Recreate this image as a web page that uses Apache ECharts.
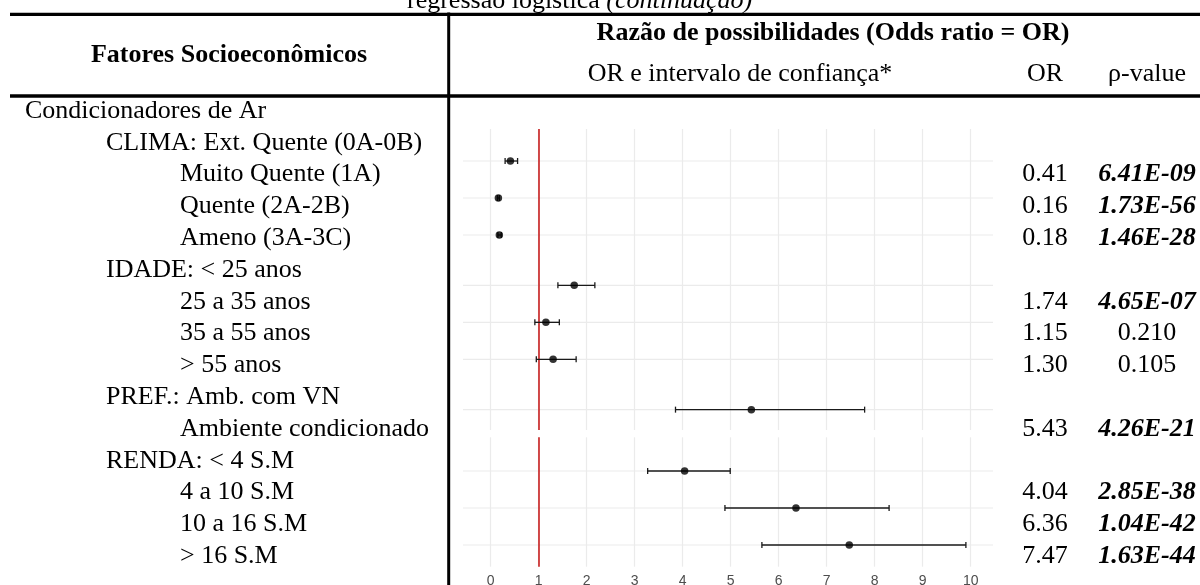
<!DOCTYPE html>
<html><head><meta charset="utf-8">
<script src="https://cdn.jsdelivr.net/npm/echarts@6/dist/echarts.min.js"></script>
<style>html,body{margin:0;padding:0;background:#fff;}#c{width:1200px;height:585px;}</style>
</head><body><div id="c"></div>
<script>
// ---------------- data ----------------
const rowLabels = ['Condicionadores de Ar','CLIMA: Ext. Quente (0A-0B)','Muito Quente (1A)','Quente (2A-2B)','Ameno (3A-3C)','IDADE: < 25 anos','25 a 35 anos','35 a 55 anos','> 55 anos','PREF.: Amb. com VN','Ambiente condicionado','RENDA: < 4 S.M','4 a 10 S.M','10 a 16 S.M','> 16 S.M'];
const rowLevels = [0,1,2,2,2,1,2,2,2,1,2,1,2,2,2];
const factorLabels = ['Muito Quente (1A)','Quente (2A-2B)','Ameno (3A-3C)','25 a 35 anos','35 a 55 anos','> 55 anos','Ambiente condicionado','4 a 10 S.M','10 a 16 S.M','> 16 S.M'];
const factorGroups = ['CLIMA','CLIMA','CLIMA','IDADE','IDADE','IDADE','PREF','RENDA','RENDA','RENDA'];
const factorPanel = [0,0,0,0,0,0,0,1,1,1];
const orValues = [0.41,0.16,0.18,1.74,1.15,1.30,5.43,4.04,6.36,7.47];
const ciLow  = [0.30,0.14,0.15,1.40,0.92,0.95,3.85,3.27,4.88,5.65];
const ciHigh = [0.56,0.18,0.22,2.17,1.43,1.78,7.79,4.99,8.30,9.90];
const pValues = ['6.41E-09','1.73E-56','1.46E-28','4.65E-07','0.210','0.105','4.26E-21','2.85E-38','1.04E-42','1.63E-44'];
const xTickMin = 0, xTickMax = 10, xTickStep = 1;
const headerLeft = 'Fatores Socioeconômicos';
const headerTop = 'Razão de possibilidades (Odds ratio = OR)';
const headerCI = 'OR e intervalo de confiança*';
const headerOR = 'OR';
const headerP = 'ρ-value';
const captionA = 'regressão logística ';
const captionB = '(continuação)';

// ---------------- layout ----------------
const SERIF = '"Liberation Serif","Times New Roman",serif';
const SANS = '"Liberation Sans",Arial,sans-serif';
const FS = 26;
const ROW_FIRST = 111, ROW_PITCH = 31.8;
const tableTop = ROW_FIRST - ROW_PITCH / 2, tableH = ROW_PITCH * rowLabels.length;
const levelX = [25, 106, 180];
const orX = 1045, pX = 1147;
const GROUP_GAP = 0.36;
const panels = [
  {top: 129, height: 301, ymin: -0.865, ymax: 7.27, labels: false},
  {top: 437.3, height: 129.4, ymin: -0.91, ymax: 2.586, labels: true}
];
const plotLeft = 490.7, plotW = 480, bgLeft = 463, bgW = 530;
const GRID_COLOR = '#ebebeb';

const rowFactor = []; { let k = 0; rowLevels.forEach(l => rowFactor.push(l === 2 ? k++ : -1)); }
const factorPos = [];
{
  const cnt = [0, 0], gaps = [0, 0], prev = [null, null];
  factorLabels.forEach((_, i) => {
    const p = factorPanel[i];
    if (prev[p] !== null && factorGroups[i] !== prev[p]) gaps[p]++;
    prev[p] = factorGroups[i];
    factorPos.push(cnt[p] + gaps[p] * GROUP_GAP);
    cnt[p]++;
  });
}

const grids = [], xAxes = [], yAxes = [], series = [];
function addGrid(g, x, y) {
  const idx = grids.length;
  g.outerBoundsMode = 'none';
  g.containLabel = false;
  grids.push(g); x.gridIndex = idx; y.gridIndex = idx; xAxes.push(x); yAxes.push(y);
  return idx;
}
function textCol(left, align, formatter, rich) {
  return addGrid({left: left, top: tableTop, width: 1, height: tableH},
    {type: 'value', show: false},
    {type: 'category', data: rowLabels, inverse: true,
     axisLine: {show: false}, axisTick: {show: false}, splitLine: {show: false},
     axisLabel: {interval: 0, margin: 0, align: align, fontFamily: SERIF, fontSize: FS, color: '#000',
                 formatter: formatter, rich: rich}});
}
levelX.forEach((x, lvl) => textCol(x, 'left', (v, i) => rowLevels[i] === lvl ? v : ''));
textCol(orX, 'center', (v, i) => rowFactor[i] >= 0 ? orValues[rowFactor[i]].toFixed(2) : '');
textCol(pX, 'center', (v, i) => {
  const f = rowFactor[i]; if (f < 0) return '';
  const p = pValues[f];
  return parseFloat(p) < 0.05 ? '{s|' + p + '}' : '{n|' + p + '}';
}, {
  s: {fontFamily: SERIF, fontSize: FS, fontWeight: 'bold', fontStyle: 'italic', color: '#000'},
  n: {fontFamily: SERIF, fontSize: FS, color: '#000'}
});

panels.forEach((pn, pi) => {
  const ids = factorLabels.map((_, i) => i).filter(i => factorPanel[i] === pi);
  const bg = addGrid({left: bgLeft, top: pn.top, width: bgW, height: pn.height},
    {type: 'value', show: false, min: 0, max: 1},
    {type: 'value', show: false, inverse: true, min: pn.ymin, max: pn.ymax});
  series.push({
    type: 'custom', xAxisIndex: bg, yAxisIndex: bg, silent: true, z: 1,
    data: ids.map(i => [0, factorPos[i]]),
    renderItem: (params, api) => {
      const y = api.coord([0, api.value(1)])[1];
      const cs = params.coordSys;
      return {type: 'line', shape: {x1: cs.x, y1: y, x2: cs.x + cs.width, y2: y},
              style: {stroke: GRID_COLOR, lineWidth: 1.2}};
    }
  });
  const g = addGrid({left: plotLeft, top: pn.top, width: plotW, height: pn.height},
    {type: 'value', min: xTickMin, max: xTickMax, interval: xTickStep,
     axisLine: {show: false}, axisTick: {show: false},
     splitLine: {show: true, lineStyle: {color: GRID_COLOR, width: 1.2}},
     axisLabel: {show: pn.labels, color: '#4d4d4d', fontFamily: SANS, fontSize: 14, margin: 7}},
    {type: 'value', show: false, inverse: true, min: pn.ymin, max: pn.ymax});
  series.push({
    type: 'custom', xAxisIndex: g, yAxisIndex: g, silent: true, z: 3,
    data: ids.map(i => [ciLow[i], ciHigh[i], factorPos[i]]),
    renderItem: (params, api) => {
      const a = api.coord([api.value(0), api.value(2)]);
      const b = api.coord([api.value(1), api.value(2)]);
      const st = {stroke: '#1a1a1a', lineWidth: 1.3};
      const cap = 3;
      return {type: 'group', children: [
        {type: 'line', shape: {x1: a[0], y1: a[1], x2: b[0], y2: b[1]}, style: st},
        {type: 'line', shape: {x1: a[0], y1: a[1] - cap, x2: a[0], y2: a[1] + cap}, style: st},
        {type: 'line', shape: {x1: b[0], y1: b[1] - cap, x2: b[0], y2: b[1] + cap}, style: st}
      ]};
    }
  });
  series.push({
    type: 'scatter', xAxisIndex: g, yAxisIndex: g, silent: true, z: 4,
    symbol: 'circle', symbolSize: 7.5, itemStyle: {color: '#000'},
    data: ids.map(i => [orValues[i], factorPos[i]]),
    markLine: {silent: true, symbol: 'none', label: {show: false}, z: 2,
               lineStyle: {color: '#c41010', width: 1.5, type: 'solid'},
               data: [{xAxis: 1}]}
  });
});

const graphic = [
  {type: 'line', shape: {x1: 10, y1: 14.3, x2: 1200, y2: 14.3}, style: {stroke: '#000', lineWidth: 3.3}},
  {type: 'line', shape: {x1: 10, y1: 96, x2: 1200, y2: 96}, style: {stroke: '#000', lineWidth: 3.3}},
  {type: 'line', shape: {x1: 448.7, y1: 12.6, x2: 448.7, y2: 585}, style: {stroke: '#000', lineWidth: 3}},
  {type: 'text', x: 229, y: 55, style: {text: headerLeft, font: 'bold ' + FS + 'px ' + SERIF, fill: '#000', align: 'center', verticalAlign: 'middle'}},
  {type: 'text', x: 833, y: 33, style: {text: headerTop, font: 'bold ' + FS + 'px ' + SERIF, fill: '#000', align: 'center', verticalAlign: 'middle'}},
  {type: 'text', x: 740, y: 74, style: {text: headerCI, font: FS + 'px ' + SERIF, fill: '#000', align: 'center', verticalAlign: 'middle'}},
  {type: 'text', x: orX, y: 74, style: {text: headerOR, font: FS + 'px ' + SERIF, fill: '#000', align: 'center', verticalAlign: 'middle'}},
  {type: 'text', x: pX, y: 74, style: {text: headerP, font: FS + 'px ' + SERIF, fill: '#000', align: 'center', verticalAlign: 'middle'}},
  {type: 'text', x: 407, y: 1, style: {
    text: '{a|' + captionA + '}{b|' + captionB + '}', align: 'left', verticalAlign: 'middle',
    rich: {a: {font: FS + 'px ' + SERIF, fill: '#000'}, b: {font: 'italic ' + FS + 'px ' + SERIF, fill: '#000'}}}}
];

const chart = echarts.init(document.getElementById('c'));
chart.setOption({
  animation: false,
  backgroundColor: '#fff',
  grid: grids, xAxis: xAxes, yAxis: yAxes, series: series, graphic: graphic
});
</script></body></html>
